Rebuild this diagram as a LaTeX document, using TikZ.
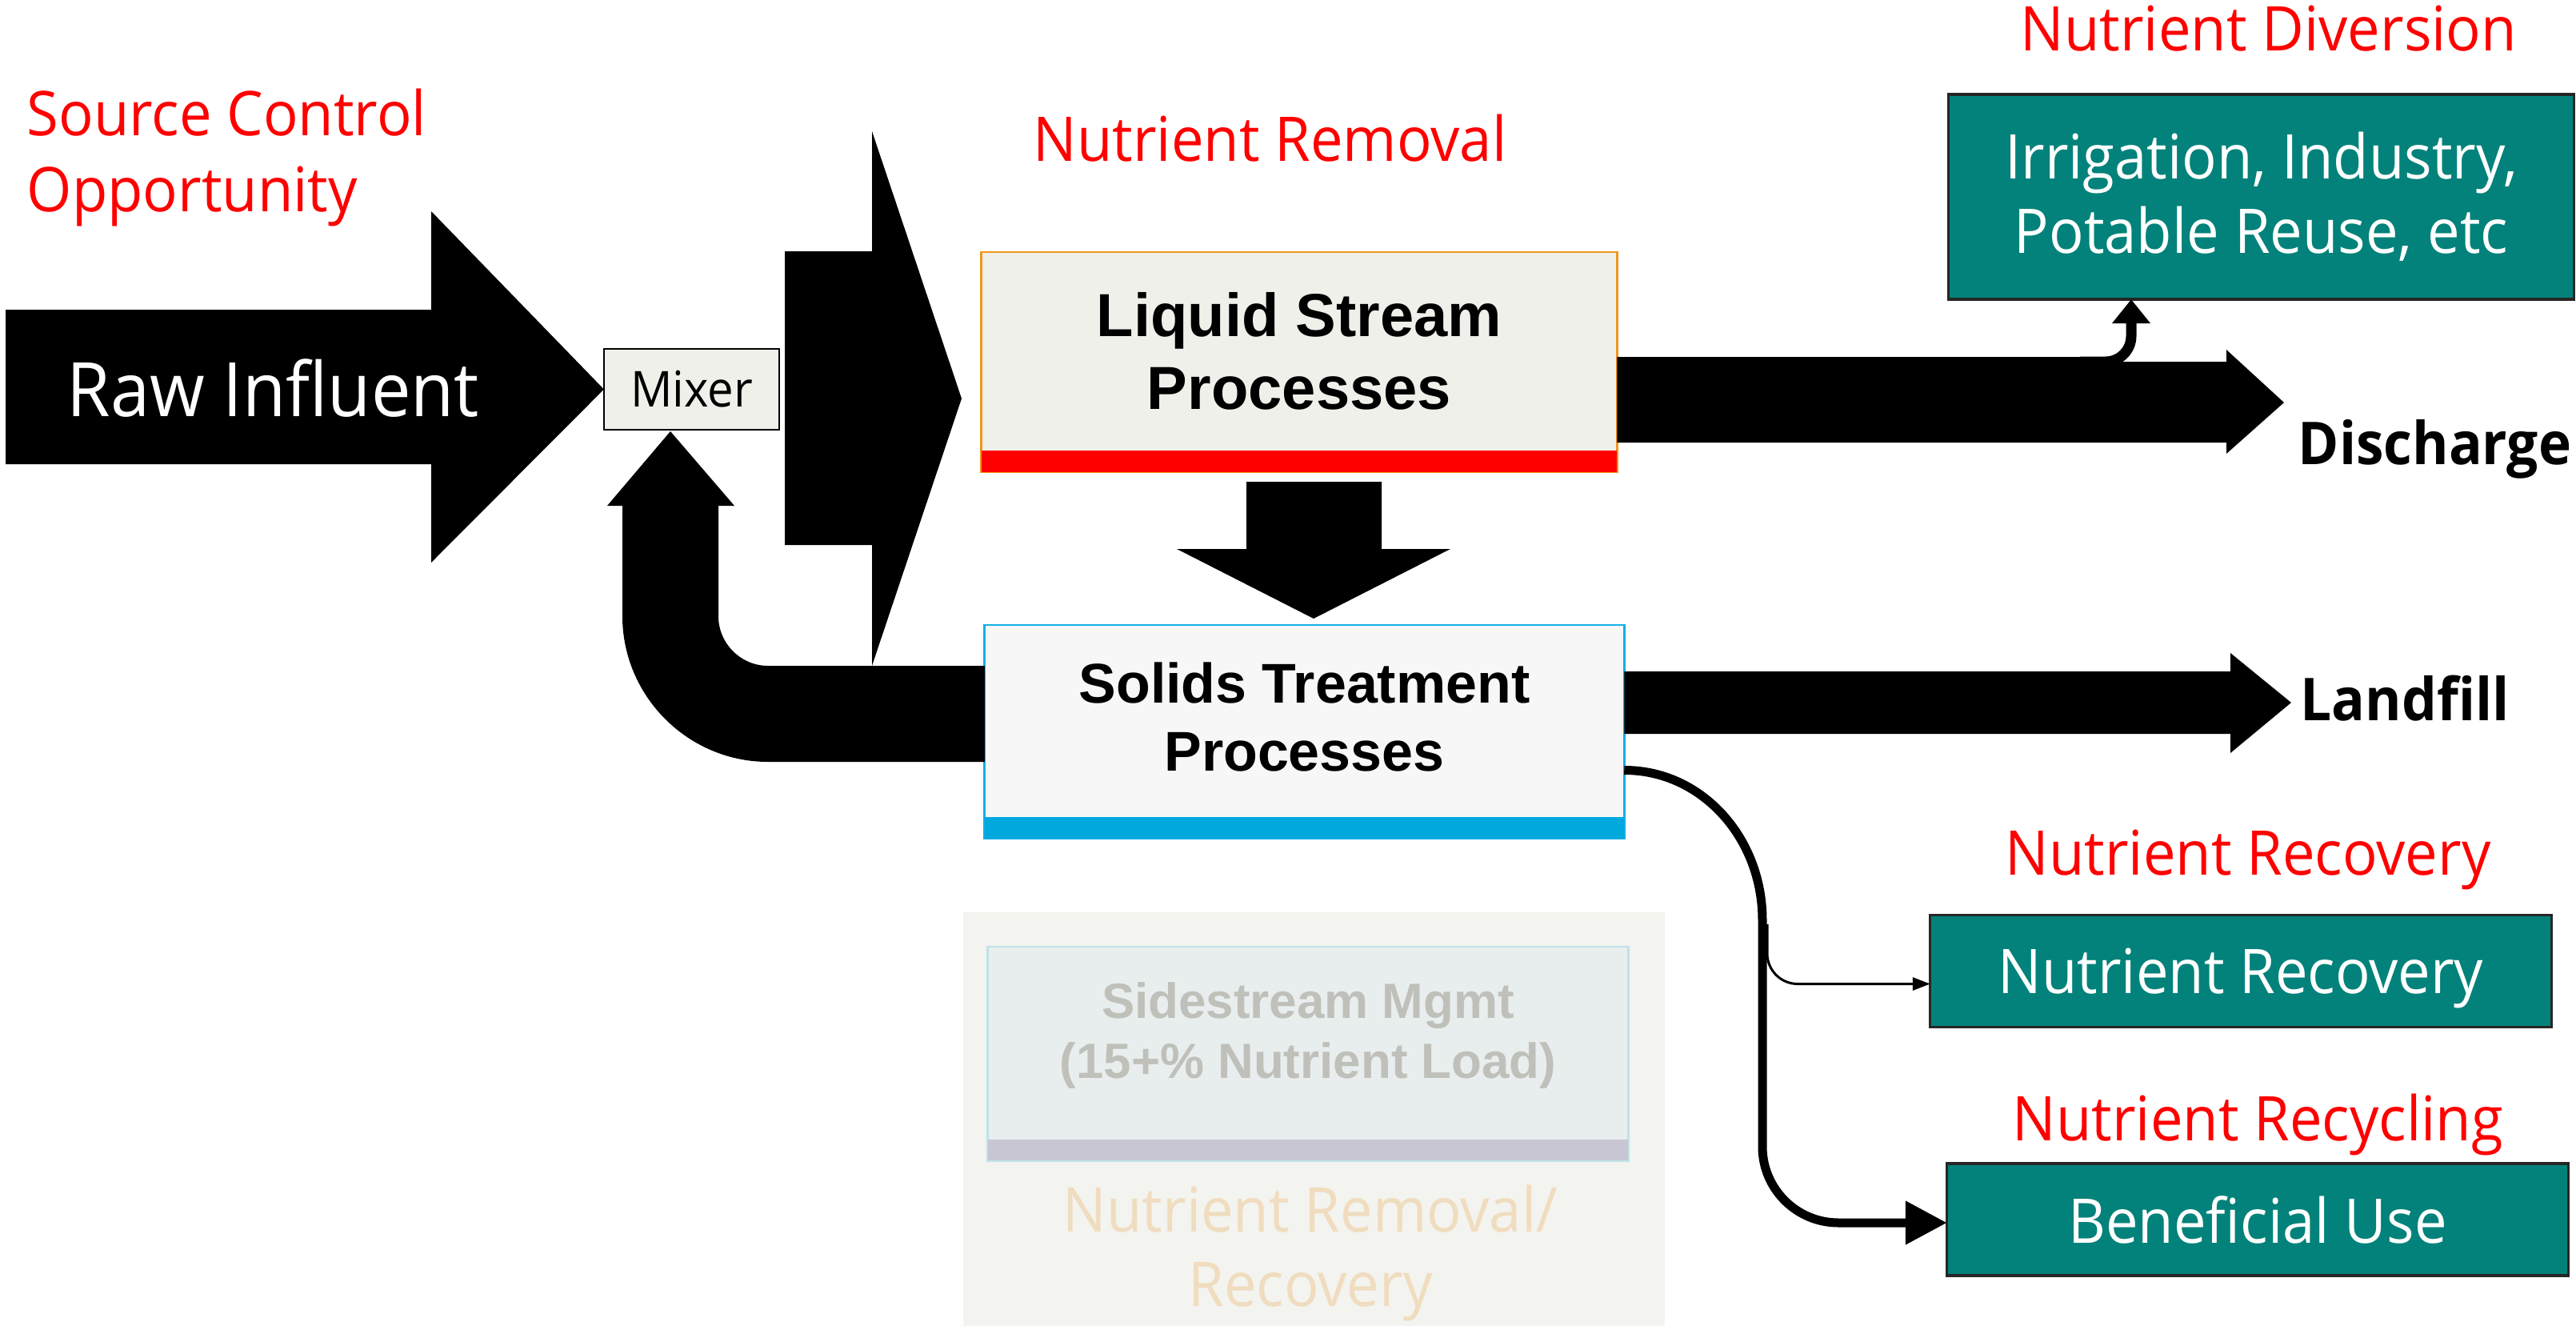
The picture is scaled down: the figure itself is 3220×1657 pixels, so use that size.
\documentclass[tikz,border=0pt]{standalone}
\usepackage{fontspec}
\setmainfont{Open Sans}
\newfontfamily\uifont[FakeStretch=0.94]{Open Sans}
\newfontfamily\arialfont{Liberation Sans}
\usetikzlibrary{positioning, arrows.meta}

\definecolor{boxteal}{RGB}{2,130,122}
\definecolor{liquidfill}{RGB}{240,240,235}
\definecolor{liquidedge}{RGB}{240,150,30}
\definecolor{solidsfill}{RGB}{247,247,247}
\definecolor{solidsedge}{RGB}{20,175,230}
\definecolor{solidsbar}{RGB}{0,168,222}
\definecolor{panelfill}{RGB}{243,243,239}
\definecolor{sidefill}{RGB}{232,238,238}
\definecolor{sideedge}{RGB}{190,226,234}
\definecolor{sidebar}{RGB}{200,198,210}
\definecolor{sidetext}{RGB}{192,192,186}
\definecolor{fadetext}{RGB}{240,220,190}

\begin{document}
\begin{tikzpicture}
[
    x=0.01cm, y=-0.01cm,
    % one unit is 0.1 mm, y runs downwards so the numbers read like a
    % page layout: (0,0) is the top left corner
]

%=================================== Start ===================================
\tikzstyle{block}      = [fill=black]
\tikzstyle{procbox}    = [line width=0.8pt, inner sep=0pt, outer sep=0pt]
\tikzstyle{proctext}   = [font=\arialfont\bfseries\fontsize{21.6}{25.9}\selectfont,
                          align=center, inner sep=0pt]
\tikzstyle{usebox}     = [draw=black!85, line width=0.9pt, fill=boxteal, text=white,
                          align=center, inner sep=0pt, outer sep=0pt,
                          font=\uifont\fontsize{21.9}{26.5}\selectfont]
\tikzstyle{redlabel}   = [text=red, font=\uifont\fontsize{21.9}{27}\selectfont,
                          align=left, inner sep=0pt, anchor=base west]
\tikzstyle{sinklabel}  = [font=\uifont\bfseries\fontsize{21}{25}\selectfont,
                          inner sep=0pt, anchor=base west]
\tikzstyle{thickflow}  = [line width=0.11cm, -{Triangle[length=0.52cm, width=0.52cm]}]
\tikzstyle{thinflow}   = [line width=0.03cm, -{Triangle[length=0.22cm, width=0.16cm]}]
\tikzstyle{divertflow} = [line width=0.13cm, -{Triangle[length=0.3cm, width=0.46cm]}]

\useasboundingbox (0,0) rectangle (3220,1657);

% Faded sidestream panel (drawn first, it sits behind everything)
\node[fill=panelfill, minimum width=8.77cm, minimum height=5.17cm,
      inner sep=0pt, outer sep=0pt] (panel) at (1642.5,1398.5) {};
\node[procbox, draw=sideedge, fill=sidefill, minimum width=8cm, minimum height=2.67cm]
      (side) at (1635,1316.5) {};
\fill[sidebar] (side.south west) rectangle ([yshift=0.26cm]side.south east);
\node[proctext, text=sidetext, font=\arialfont\bfseries\fontsize{17.6}{21.3}\selectfont]
      (side-text) at ([yshift=0.225cm]side.center) {Sidestream Mgmt\\(15+\% Nutrient Load)};
\node[text=fadetext, align=center, inner sep=0pt, font=\uifont\fontsize{21.9}{26.7}\selectfont]
      (side-note) at (1638,1566) {Nutrient Removal/\\Recovery};

% Process boxes
\node[procbox, draw=black, fill=liquidfill, minimum width=2.19cm, minimum height=1.01cm,
      font=\uifont\fontsize{17.6}{20}\selectfont] (mixer) at (864.5,486.5) {Mixer};
\node[procbox, draw=liquidedge, fill=liquidfill, minimum width=7.94cm, minimum height=2.75cm]
      (liquid) at (1624,452.5) {};
\fill[red] (liquid.south west) rectangle ([yshift=0.27cm]liquid.south east);
\node[proctext] (liquid-text) at ([yshift=0.14cm]liquid.center) {Liquid Stream\\Processes};

\node[procbox, draw=solidsedge, fill=solidsfill, minimum width=7.99cm, minimum height=2.67cm]
      (solids) at (1630.5,914.5) {};
\fill[solidsbar] (solids.south west) rectangle ([yshift=0.27cm]solids.south east);
\node[proctext, font=\arialfont\bfseries\fontsize{19.9}{23.9}\selectfont]
      (solids-text) at ([yshift=0.185cm]solids.center) {Solids Treatment\\Processes};

% End uses
\node[usebox, minimum width=7.81cm, minimum height=2.56cm] (irrigation) at (2826.5,246)
      {Irrigation, Industry,\\Potable Reuse, etc};
\node[usebox, minimum width=7.76cm, minimum height=1.40cm, text depth=0pt] (recovery)
      at (2801,1213.5) {Nutrient Recovery};
\node[usebox, minimum width=7.76cm, minimum height=1.40cm] (beneficial) at (2822,1524)
      {Beneficial Use};

% Red captions (base west sits on the last line)
\foreach \name / \x / \y / \txt in {source/33/264/{Source Control\\Opportunity},
        removal/1291/201/{Nutrient Removal}, diversion/2525/63/{Nutrient Diversion},
        reclaim/2506/1093/{Nutrient Recovery}, recycling/2515/1425/{Nutrient Recycling}}
    \node[redlabel] (\name) at (\x,\y) {\txt};

\node[sinklabel] (discharge) at (2872,580) {Discharge};
\node[sinklabel] (landfill) at (2875,900) {Landfill};

% Block arrows
\fill[block] (7,387) -- (539,387) -- (539,264) -- (mixer.west) -- (539,703)
    -- (539,580) -- (7,580) -- cycle;
\node[text=white, inner sep=0pt, anchor=base west, font=\uifont\fontsize{26.7}{32}\selectfont]
      (raw) at (83,520) {Raw Influent};

\fill[block] (981,314) -- (1090,314) -- (1090,164) -- (1202,498) -- (1090,832)
    -- (1090,681) -- (981,681) -- cycle;

% return flow from solids back to the mixer
\fill[block] (solids.west |- 0,832) -- (960,832) .. controls (926,832) and (898,804) .. (898,770)
    -- (898,632) -- (918,632) -- (838,539) -- (759,632) -- (778,632) -- (778,770)
    .. controls (778,870) and (860,952) .. (960,952) -- (solids.west |- 0,952) -- cycle;

\fill[block] (1558,602) -- (1727,602) -- (1727,686) -- (1813,686) -- (1642,773)
    -- (1471,686) -- (1558,686) -- cycle;

\fill[block] (liquid.east |- 0,446) -- (2640,446) -- (2640,452) -- (2783,452) -- (2783,437)
    -- (2855,503) -- (2783,567) -- (2783,553) -- (liquid.east |- 0,553) -- cycle;

\fill[block] (solids.east |- 0,839) -- (2788,839) -- (2788,816) -- (2864,878)
    -- (2788,941) -- (2788,917) -- (solids.east |- 0,917) -- cycle;

% Connect nodes
\draw[divertflow] (2600,452) [rounded corners=0.32cm] -| (irrigation.south -| 2664,0);
\draw[thickflow] ([yshift=-0.48cm]solids.east) .. controls (2126,962) and (2203,1046) .. (2203,1150)
    [rounded corners=0.95cm] |- ([yshift=-0.04cm]beneficial.west);
\draw[thinflow] (2209,1155) [rounded corners=0.38cm] |- ([yshift=-0.16cm]recovery.west);
%==================================== END ====================================

\end{tikzpicture}
\end{document}
